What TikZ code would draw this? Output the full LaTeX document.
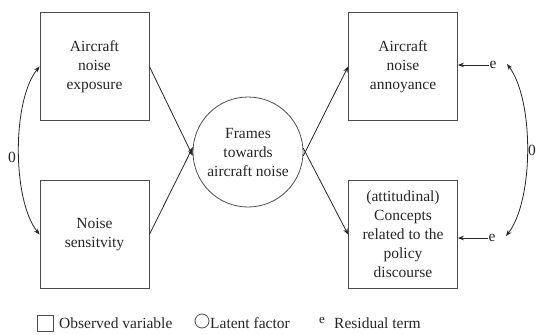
\documentclass[tikz,border=0pt]{standalone}
\usepackage{fontspec}
\setmainfont{Liberation Serif}
\usetikzlibrary{arrows.meta}
\begin{document}
\begin{tikzpicture}[x=1pt,y=-1pt,
  txt/.style={font=\fontsize{15.5}{19}\selectfont, text=black!85},
  box/.style={txt, draw=black!70, line width=0.8pt, minimum width=109pt, minimum height=108pt, inner sep=2pt, align=center},
  latent/.style={txt, draw=black!70, circle, line width=0.8pt, minimum size=110pt, inner sep=0pt, align=center},
  arr/.style={-{Stealth[length=6pt,width=4.5pt]}, line width=0.8pt, black!85},
  dbl/.style={{Stealth[length=6pt,width=4.5pt]}-{Stealth[length=6pt,width=4.5pt]}, line width=0.8pt, black!85},
  lbl/.style={txt, inner sep=0pt}
]
\useasboundingbox (0,0) rectangle (537,334);

% observed variables
\node[box] (b1) at (94.5,66.5) {Aircraft\\noise\\exposure};
\node[box] (b2) at (94.5,234.5) {Noise\\sensitvity};
\node[box] (b3) at (403,66.5) {Aircraft\\noise\\annoyance};
\node[box] (b4) at (403,234.5) {(attitudinal)\\Concepts\\related to the\\policy\\discourse};

% latent factor
\node[latent] (lf) at (248,152) {Frames\\towards\\aircraft noise};

% paths
\draw[arr] (b1.east) -- (lf.184);
\draw[arr] (b2.east) -- (lf.175);
\draw[arr] (lf.356) -- (b3.west);
\draw[arr] (lf.4) -- (b4.west);

% residuals
\node[lbl] (e1) at (493,65) {e};
\node[lbl] (e2) at (492,238) {e};
\draw[arr] (e1.west) -- (e1.west -| b3.east);
\draw[arr] (e2.west) -- (e2.west -| b4.east);

% covariances
\coordinate (c1) at (507,64);
\coordinate (c2) at (506,236);
\draw[dbl] (c1) .. controls (534,100) and (534,200) .. (c2);
\node[lbl] (z2) at (532,150) {0};

\draw[dbl] (b1.west) .. controls (12,100) and (12,200) .. (b2.west);
\node[lbl] (z1) at (12,157) {0};

% legend
\node[draw=black!70, line width=0.8pt, minimum size=16pt, inner sep=0pt] (lsq) at (45,323) {};
\node[lbl, anchor=west] (lobs) at (59,323) {Observed variable};
\node[draw=black!70, line width=0.8pt, circle, minimum size=14pt, inner sep=0pt] (lcir) at (202,321) {};
\node[lbl, anchor=west] (llat) at (210,323) {Latent factor};
\node[lbl, font=\fontsize{13}{15}\selectfont] (le) at (322,320) {e};
\node[lbl, anchor=west] (lres) at (334,323) {Residual term};
\end{tikzpicture}
\end{document}
